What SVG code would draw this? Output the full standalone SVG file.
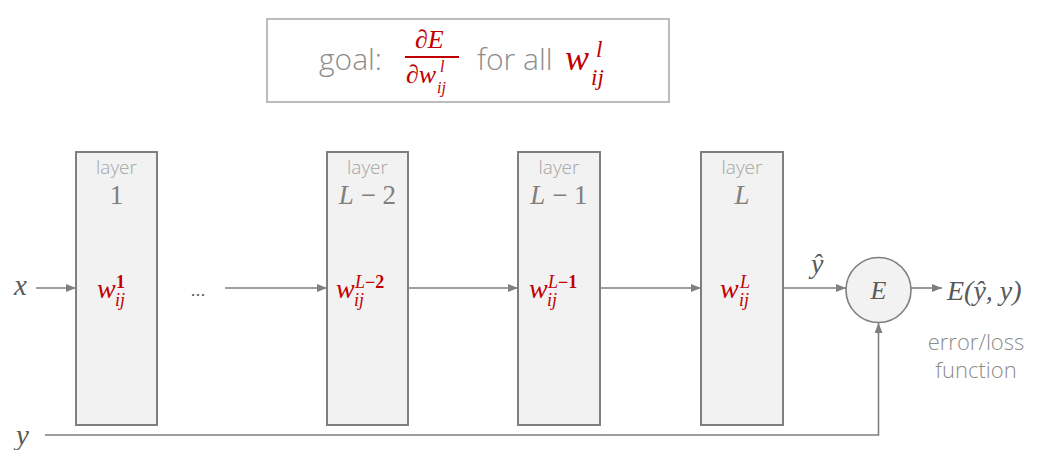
<svg xmlns="http://www.w3.org/2000/svg" width="1046" height="450" viewBox="0 0 1046 450">
<defs>
<marker id="ah" markerWidth="10" markerHeight="8" refX="10" refY="4" orient="auto" markerUnits="userSpaceOnUse">
<path d="M0,0 L10,4 L0,8 Z" fill="#7f7f7f"/>
</marker>
<style>
.box{fill:#f2f2f2;stroke:#7f7f7f;stroke-width:2}
.conn{stroke:#7f7f7f;stroke-width:1.6;fill:none}
.lay{font-family:"Open Sans","Liberation Sans",sans-serif;font-weight:300;font-size:19px;fill:#a6a6a6;text-anchor:middle}
.num{font-family:"Liberation Serif","DejaVu Serif",serif;font-size:27px;fill:#7f7f7f;text-anchor:middle}
.m{font-family:"Liberation Serif","DejaVu Serif",serif;font-style:italic;fill:#595959}
.r{font-family:"Liberation Serif","DejaVu Serif",serif;font-style:italic;fill:#c00000}
.rn{font-style:normal}
.lbl{font-family:"Open Sans","Liberation Sans",sans-serif;font-weight:300;fill:#8c8c8c}
</style>
</defs>
<rect width="1046" height="450" fill="#ffffff"/>

<g id="goal">
<rect x="267" y="19" width="402" height="83" fill="#ffffff" stroke="#a6a6a6" stroke-width="1.5"/>
<text x="319" y="70" class="lbl" font-size="30" fill="#7f7f7f">goal:</text>
<text x="415" y="48" class="r" font-size="26">∂E</text>
<line x1="405" y1="57" x2="459" y2="57" stroke="#c00000" stroke-width="1.8"/>
<text x="406" y="83" class="r" font-size="26">∂w</text>
<text x="440" y="72" class="r" font-size="16">l</text>
<text x="437" y="93" class="r" font-size="16">ij</text>
<text x="477" y="70" class="lbl" font-size="30" fill="#7f7f7f">for all</text>
<text x="565" y="70" class="r" font-size="36">w</text>
<text x="596" y="57" class="r" font-size="23">l</text>
<text x="591" y="85" class="r" font-size="23">ij</text>
</g>

<g id="layer1">
<rect x="76" y="152" width="81" height="273" class="box"/>
<text x="116.5" y="174" class="lay">layer</text>
<text x="116.5" y="204" class="num">1</text>
<text x="97" y="298" class="r" font-size="28">w</text>
<text x="116" y="288" class="r" font-size="18"><tspan class="rn" font-weight="bold">1</tspan></text>
<text x="115" y="306" class="r" font-size="18">ij</text>
</g>

<g id="layerL2">
<rect x="327" y="152" width="81" height="273" class="box"/>
<text x="367.5" y="174" class="lay">layer</text>
<text x="367.5" y="204" class="num"><tspan font-style="italic">L</tspan> − 2</text>
<text x="336" y="298" class="r" font-size="28">w</text>
<text x="355" y="288" class="r" font-size="18">L<tspan class="rn" font-weight="bold">−2</tspan></text>
<text x="354" y="306" class="r" font-size="18">ij</text>
</g>

<g id="layerL1">
<rect x="518" y="152" width="82" height="273" class="box"/>
<text x="559" y="174" class="lay">layer</text>
<text x="559" y="204" class="num"><tspan font-style="italic">L</tspan> − 1</text>
<text x="529" y="298" class="r" font-size="28">w</text>
<text x="548" y="288" class="r" font-size="18">L<tspan class="rn" font-weight="bold">−1</tspan></text>
<text x="547" y="306" class="r" font-size="18">ij</text>
</g>

<g id="layerL">
<rect x="701" y="152" width="82" height="273" class="box"/>
<text x="742" y="174" class="lay">layer</text>
<text x="742" y="204" class="num" font-style="italic">L</text>
<text x="720" y="298" class="r" font-size="28">w</text>
<text x="740" y="288" class="r" font-size="18">L</text>
<text x="739" y="306" class="r" font-size="18">ij</text>
</g>

<g id="error">
<circle cx="878.5" cy="290" r="32.5" fill="#f2f2f2" stroke="#7f7f7f" stroke-width="1.6"/>
<text x="878.5" y="299" class="m" font-size="26" text-anchor="middle" fill="#7f7f7f">E</text>
</g>

<g id="labels">
<text x="14" y="295" class="m" font-size="29">x</text>
<text x="16" y="445" class="m" font-size="29">y</text>
<text x="198" y="296" font-family="Liberation Sans,sans-serif" font-size="18" fill="#595959" text-anchor="middle">...</text>
<text x="811" y="273" class="m" font-size="28">ŷ</text>
<text x="947" y="300" class="m" font-size="28">E(ŷ, y)</text>
<text x="976" y="350" class="lbl" font-size="22" text-anchor="middle">error/loss</text>
<text x="976" y="378" class="lbl" font-size="22" text-anchor="middle">function</text>
</g>

<g id="connectors">
<line x1="36" y1="288" x2="76" y2="288" class="conn" marker-end="url(#ah)"/>
<line x1="225" y1="288" x2="327" y2="288" class="conn" marker-end="url(#ah)"/>
<line x1="408" y1="288" x2="518" y2="288" class="conn" marker-end="url(#ah)"/>
<line x1="600" y1="288" x2="701" y2="288" class="conn" marker-end="url(#ah)"/>
<line x1="783" y1="288" x2="846" y2="288" class="conn" marker-end="url(#ah)"/>
<line x1="911" y1="288" x2="942" y2="288" class="conn" marker-end="url(#ah)"/>
<polyline points="45,435 878.5,435 878.5,323" class="conn" marker-end="url(#ah)"/>
</g>
</svg>
